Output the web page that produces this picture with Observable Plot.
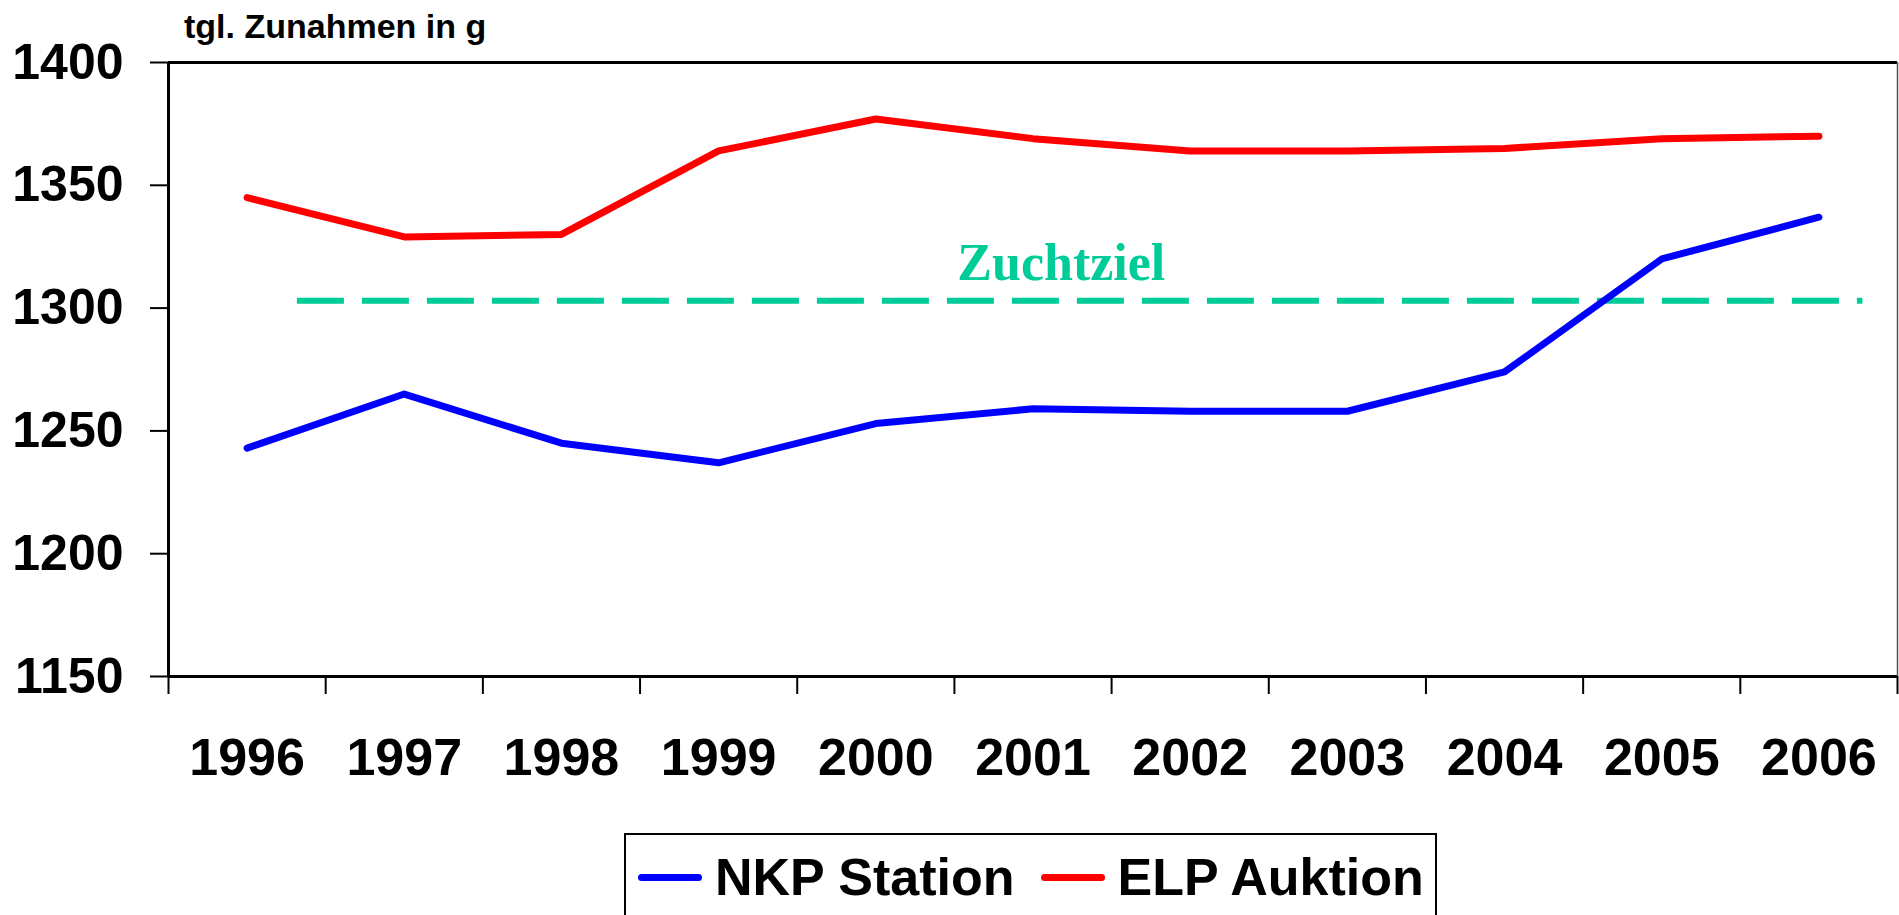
<!DOCTYPE html>
<html>
<head>
<meta charset="utf-8">
<script src="https://cdn.jsdelivr.net/npm/d3@7"></script>
<script src="https://cdn.jsdelivr.net/npm/@observablehq/plot@0.6"></script>
<style>
  html, body { margin: 0; padding: 0; background: #fff; overflow: hidden; }
  #wrap { position: relative; width: 1899px; height: 915px; font-family: "Liberation Sans", Arial, sans-serif; }
  #title { position: absolute; left: 184px; top: 9px; font-size: 34px; font-weight: bold; line-height: 34px; color: #000; white-space: nowrap; }
  #chart { position: absolute; left: 0; top: 0; }
  #legend { position: absolute; left: 624px; top: 833px; width: 809px; height: 120px; border: 2px solid #000; background: #fff; box-sizing: content-box; }
  #legend .row { position: absolute; left: 12px; top: 16px; display: flex; align-items: center; height: 52px; }
  #legend .item { display: flex; align-items: center; margin-right: 26px; }
  #legend .sw { width: 64px; height: 7px; border-radius: 4px; margin-right: 13px; }
  #legend .lab { font-size: 52px; font-weight: bold; line-height: 52px; color: #000; white-space: nowrap; }
</style>
</head>
<body>
<div id="wrap">
  <div id="chart"></div>
  <div id="title"></div>
  <div id="legend"><div class="row"></div></div>
</div>
<script>
// ---- data ----
const years = [1996, 1997, 1998, 1999, 2000, 2001, 2002, 2003, 2004, 2005, 2006];
const nkpStation = [1243, 1265, 1245, 1237, 1253, 1259, 1258, 1258, 1274, 1320, 1337];
const elpAuktion = [1345, 1329, 1330, 1364, 1377, 1369, 1364, 1364, 1365, 1369, 1370];
const seriesNames = ["NKP Station", "ELP Auktion"];
const yTicks = [1150, 1200, 1250, 1300, 1350, 1400];
const zuchtziel = 1303;
const zuchtzielLabel = "Zuchtziel";
const zuchtzielSpan = [1996.32, 2006.28];
const zuchtzielLabelYear = 2001.18;
const yTitle = "tgl. Zunahmen in g";

// ---- styles ----
const seriesColors = ["#0000ff", "#ff0000"];
const goalColor = "#00cc99";

// ---- build table ----
const rows = [];
years.forEach((yr, i) => {
  rows.push({year: yr, value: nkpStation[i], series: seriesNames[0]});
  rows.push({year: yr, value: elpAuktion[i], series: seriesNames[1]});
});
const xMin = years[0] - 0.5, xMax = years[years.length - 1] + 0.5;
const boundaries = years.map(y => y - 0.5).concat([xMax]);

const chart = Plot.plot({
  width: 1899,
  height: 800,
  marginLeft: 168,
  marginRight: 2,
  marginTop: 62,
  marginBottom: 124,
  x: {domain: [xMin, xMax]},
  y: {domain: [yTicks[0], yTicks[yTicks.length - 1]]},
  color: {domain: seriesNames, range: seriesColors},
  style: {fontFamily: "'Liberation Sans', Arial, sans-serif", background: "#fff", overflow: "visible", color: "#000"},
  marks: [
    Plot.axisY({ticks: yTicks, tickSize: 18, tickPadding: 27, fontSize: 50, fontWeight: "bold",
      label: null, strokeWidth: 2, tickFormat: d => String(d)}),
    Plot.axisX({ticks: boundaries, tickSize: 18, tickFormat: () => "", label: null, strokeWidth: 2}),
    Plot.axisX({ticks: years, tickSize: 0, tickPadding: 62, fontSize: 52, fontWeight: "bold",
      label: null, tickFormat: d => String(d)}),
    Plot.ruleY([yTicks[0]], {stroke: "#000", strokeWidth: 3}),
    Plot.ruleY([yTicks[yTicks.length - 1]], {stroke: "#000", strokeWidth: 3}),
    Plot.ruleX([xMin], {stroke: "#000", strokeWidth: 3}),
    Plot.ruleX([xMax], {stroke: "#555", strokeWidth: 1.5}),
    Plot.ruleY([{y: zuchtziel, x1: zuchtzielSpan[0], x2: zuchtzielSpan[1]}],
      {y: "y", x1: "x1", x2: "x2", stroke: goalColor, strokeWidth: 6, strokeDasharray: "47 18"}),
    Plot.text([{x: zuchtzielLabelYear, y: zuchtziel, t: zuchtzielLabel}],
      {x: "x", y: "y", text: "t", dy: -37, fill: goalColor, fontSize: 52, fontWeight: "bold",
       fontFamily: "'Liberation Serif', 'Times New Roman', serif"}),
    Plot.line(rows, {x: "year", y: "value", z: "series", stroke: "series", strokeWidth: 7,
      strokeLinejoin: "round", strokeLinecap: "round"})
  ]
});
document.getElementById("chart").appendChild(chart);
document.getElementById("title").textContent = yTitle;

const row = document.querySelector("#legend .row");
seriesNames.forEach((name, i) => {
  const item = document.createElement("div");
  item.className = "item";
  const sw = document.createElement("div");
  sw.className = "sw";
  sw.style.background = seriesColors[i];
  const lab = document.createElement("div");
  lab.className = "lab";
  lab.textContent = name;
  item.appendChild(sw);
  item.appendChild(lab);
  row.appendChild(item);
});
</script>
</body>
</html>
